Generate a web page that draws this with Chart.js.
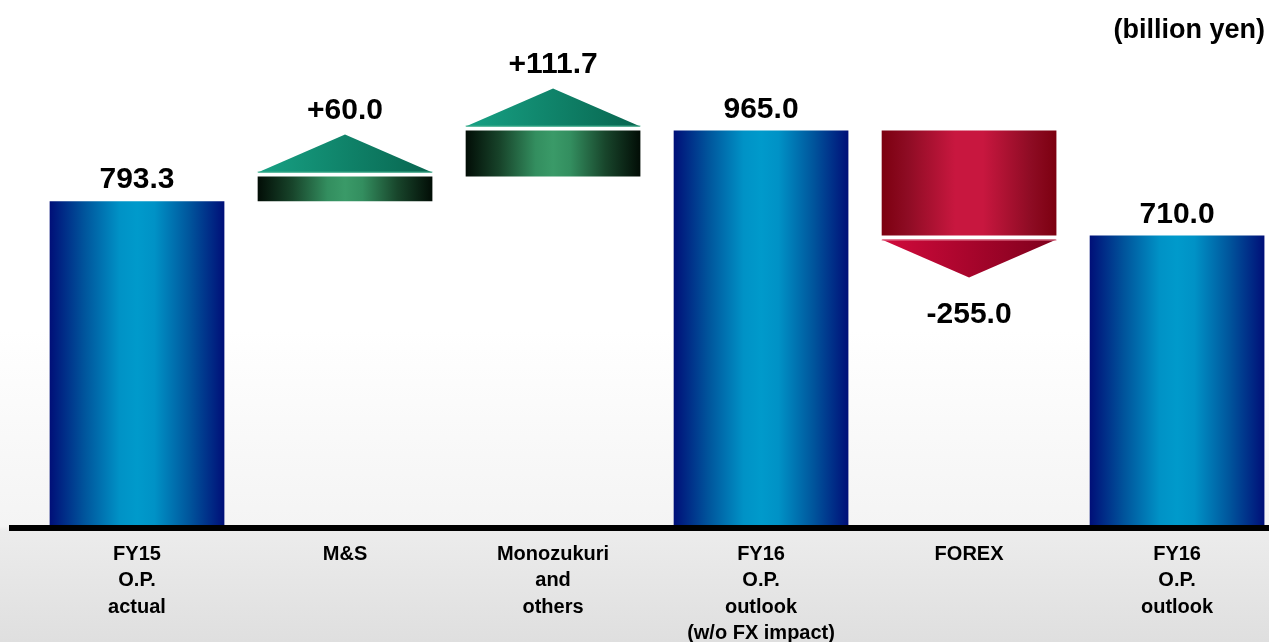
<!DOCTYPE html>
<html>
<head>
<meta charset="utf-8">
<script src="https://cdn.jsdelivr.net/npm/chart.js@4.4.1/dist/chart.umd.min.js"></script>
<style>
  html, body { margin: 0; padding: 0; background: #fff; }
  canvas { display: block; }
</style>
</head>
<body>
<canvas id="myChart" width="1269" height="642"></canvas>
<script>
// operating profit bridge, billion yen
const categories = [
    ['FY15', 'O.P.', 'actual'],
    ['M&S'],
    ['Monozukuri', 'and', 'others'],
    ['FY16', 'O.P.', 'outlook', '(w/o FX impact)'],
    ['FOREX'],
    ['FY16', 'O.P.', 'outlook']
];
const barStart = [0, 793.3, 853.3, 0, 965.0, 0];
const barEnd = [793.3, 853.3, 965.0, 965.0, 710.0, 710.0];
const valueLabels = ['793.3', '+60.0', '+111.7', '965.0', '-255.0', '710.0'];
const kinds = ['total', 'up', 'up', 'total', 'down', 'total'];
const unitLabel = '(billion yen)';

const FONT = '"Liberation Sans", Arial, Helvetica, sans-serif';
const BAR_PCT = 0.84;

const blueStops = [[0, '#000f78'], [0.2, '#00559c'], [0.4, '#0092c6'], [0.5, '#009acb'], [0.6, '#0092c6'], [0.8, '#00559c'], [1, '#000f78']];
const greenStops = [[0, '#020d06'], [0.2, '#18452b'], [0.4, '#338e5f'], [0.5, '#3a9a68'], [0.6, '#338e5f'], [0.8, '#18452b'], [1, '#020d06']];
const redStops = [[0, '#7c0010'], [0.15, '#8e0c24'], [0.42, '#c8173f'], [0.58, '#c8173f'], [0.85, '#8e0c24'], [1, '#7c0010']];
const greenTri = [[0, '#17a184'], [1, '#08654f']];
const redTri = [[0, '#d20a3c'], [1, '#7e001c']];

function hGrad (ctx, left, right, stops) {
    const g = ctx.createLinearGradient(left, 0, right, 0);
    stops.forEach(s => g.addColorStop(s[0], s[1]));
    return g;
}

function barColor (c) {
    const i = c.dataIndex;
    const fallback = kinds[i] === 'up' ? '#3a9a68' : (kinds[i] === 'down' ? '#c8173f' : '#009acb');
    if (i === undefined) return '#009acb';
    const xs = c.chart.scales.x;
    if (!xs) return fallback;
    const cx = xs.getPixelForValue(i);
    const w = (xs.getPixelForValue(1) - xs.getPixelForValue(0)) * BAR_PCT;
    if (!isFinite(cx) || !isFinite(w) || w <= 0) return fallback;
    const stops = kinds[i] === 'total' ? blueStops : (kinds[i] === 'up' ? greenStops : redStops);
    return hGrad(c.chart.ctx, cx - w / 2, cx + w / 2, stops);
}

const background = {
    id: 'background',
    beforeDraw (chart) {
        const ctx = chart.ctx;
        const g = ctx.createLinearGradient(0, 0, 0, chart.height);
        g.addColorStop(0, '#ffffff');
        g.addColorStop(330 / 642, '#ffffff');
        g.addColorStop(526 / 642, '#f4f4f4');
        g.addColorStop(531 / 642, '#ececec');
        g.addColorStop(1, '#dfdfdf');
        ctx.save();
        ctx.fillStyle = g;
        ctx.fillRect(0, 0, chart.width, chart.height);
        ctx.restore();
    }
};

const arrows = {
    id: 'arrows',
    afterDatasetsDraw (chart) {
        const ctx = chart.ctx;
        const meta = chart.getDatasetMeta(0);
        ctx.save();
        meta.data.forEach((el, i) => {
            const top = Math.min(el.y, el.base);
            const bottom = Math.max(el.y, el.base);
            const l = el.x - el.width / 2, r = el.x + el.width / 2;
            let tip;
            if (kinds[i] === 'up') {
                const b = top - 4;
                tip = b - 38;
                ctx.fillStyle = hGrad(ctx, l, r, greenTri);
                ctx.beginPath();
                ctx.moveTo(l, b); ctx.lineTo(el.x, tip); ctx.lineTo(r, b);
                ctx.closePath(); ctx.fill();
                ctx.fillStyle = '#3fae8c';
                ctx.fillRect(l, b - 1, r - l, 1);
            } else if (kinds[i] === 'down') {
                const b = bottom + 4;
                tip = b + 38;
                ctx.fillStyle = hGrad(ctx, l, r, redTri);
                ctx.beginPath();
                ctx.moveTo(l, b); ctx.lineTo(el.x, tip); ctx.lineTo(r, b);
                ctx.closePath(); ctx.fill();
                ctx.fillStyle = '#e0708a';
                ctx.fillRect(l, b, r - l, 1);
            }

            ctx.fillStyle = '#000';
            ctx.font = 'bold 30px ' + FONT;
            ctx.textAlign = 'center';
            if (kinds[i] === 'total') {
                ctx.textBaseline = 'alphabetic';
                ctx.fillText(valueLabels[i], el.x, top - 13);
            } else if (kinds[i] === 'up') {
                ctx.textBaseline = 'alphabetic';
                ctx.fillText(valueLabels[i], el.x, tip - 16);
            } else {
                ctx.textBaseline = 'top';
                ctx.fillText(valueLabels[i], el.x, tip + 22);
            }
        });
        ctx.font = 'bold 27px ' + FONT;
        ctx.textAlign = 'right';
        ctx.textBaseline = 'alphabetic';
        ctx.fillText(unitLabel, chart.width - 4, 38);
        ctx.restore();
    }
};

function main () {
    const ctx = document.getElementById('myChart').getContext('2d');
    const myChart = new Chart(ctx, {
        type: 'bar',
        data: {
            datasets: [{
                data: categories.map((c, i) => ({ x: i, y: [barStart[i], barEnd[i]] })),
                backgroundColor: barColor,
                borderWidth: 0,
                borderSkipped: false,
                barPercentage: BAR_PCT,
                categoryPercentage: 1
            }]
        },
        options: {
            responsive: false,
            animation: false,
            layout: { padding: { left: 12, right: 0, top: 0, bottom: 0 } },
            plugins: {
                legend: { display: false },
                tooltip: { enabled: false }
            },
            scales: {
                x: {
                    type: 'linear',
                    offset: false,
                    min: -0.601,
                    max: 5.442,
                    grid: { display: false, drawTicks: false },
                    border: { display: true, color: '#000', width: 6, z: 1 },
                    afterBuildTicks: s => { s.ticks = categories.map((c, i) => ({ value: i })); },
                    afterFit: s => { s.height = 114; },
                    ticks: {
                        autoSkip: false,
                        maxRotation: 0,
                        padding: 13,
                        color: '#000',
                        font: { family: FONT, size: 20, weight: 'bold', lineHeight: 1.32 },
                        callback: v => categories[v]
                    }
                },
                y: {
                    display: false,
                    min: 0,
                    max: 1282
                }
            }
        },
        plugins: [background, arrows]
    });
}

window.onload = main;
</script>
</body>
</html>
